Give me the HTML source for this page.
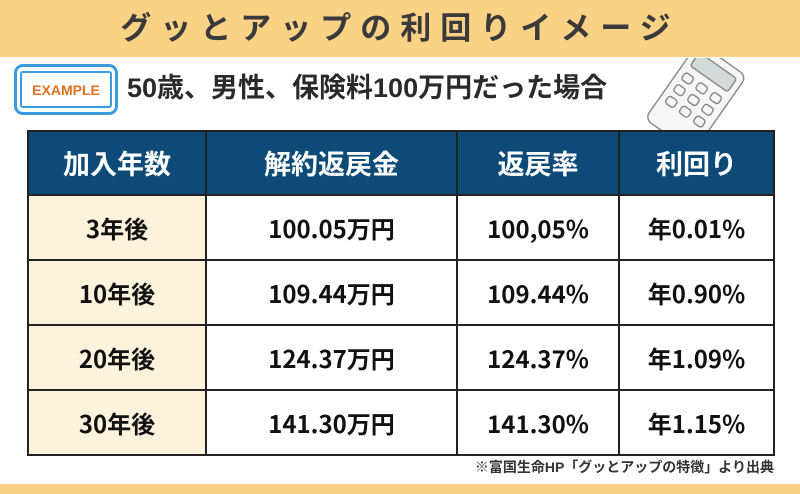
<!DOCTYPE html>
<html><head><meta charset="utf-8"><style>
*{margin:0;padding:0;box-sizing:border-box}
body{width:800px;height:494px;background:#fff;position:relative;overflow:hidden;font-family:"Liberation Sans","Noto Sans CJK JP",sans-serif;color:#222}
.top{position:absolute;left:0;top:0;width:800px;height:57px;background:#f9d285}
.top div{text-align:center;font-size:31px;font-weight:bold;line-height:57px;letter-spacing:9px;color:#3a3a3a}
.bot{position:absolute;left:0;top:484px;width:800px;height:10px;background:#f9d285}
.ex{position:absolute;left:14px;top:64px;width:104px;height:51px;border:3px solid #3a9be0;border-radius:9px}
.ex div{position:absolute;left:3px;top:4px;right:3px;bottom:4px;border:2px solid #3a9be0;border-radius:3px;color:#e07020;font-weight:bold;font-size:14px;text-align:center;line-height:34px}
.sub{position:absolute;left:127px;top:70px;font-size:27px;font-weight:bold;line-height:36px;color:#2a2a2a}
table{position:absolute;left:27px;top:130px;width:748px;border-collapse:collapse}
td,th{border:2px solid #222;text-align:center;font-weight:bold;font-size:24px;vertical-align:middle;line-height:30px;font-family:"Noto Sans CJK JP",sans-serif}
th{background:#0d4a78;color:#fff;height:64px;font-size:27px}
td{height:65px;background:#fff;color:#111}
td.f{background:#fdf3dd}
.note{position:absolute;right:26px;top:457px;font-size:14px;font-weight:bold;color:#333}
</style></head><body>
<div class="top"><div>グッとアップの利回りイメージ</div></div>
<div class="ex"><div>EXAMPLE</div></div>
<div class="sub">50歳、男性、保険料100万円だった場合</div>
<svg style="position:absolute;left:640px;top:58px" width="110" height="78" viewBox="0 0 110 82">
<g transform="rotate(35 55 41)" fill="none" stroke="#888" stroke-width="1.5">
<rect x="25" y="-8" width="62" height="98" rx="8" fill="#f6f6f6"/>
<rect x="32" y="0" width="48" height="17" rx="3" fill="#d3dada"/>
<rect x="32" y="25" width="11" height="9" rx="3"/><rect x="50" y="25" width="11" height="9" rx="3"/><rect x="68" y="25" width="11" height="9" rx="3"/>
<rect x="32" y="40" width="11" height="9" rx="3"/><rect x="50" y="40" width="11" height="9" rx="3"/><rect x="68" y="40" width="11" height="9" rx="3"/>
<rect x="32" y="55" width="11" height="9" rx="3"/><rect x="50" y="55" width="11" height="9" rx="3"/><rect x="68" y="55" width="11" height="9" rx="3"/>
</g></svg>
<table>
<tr><th style="width:178px">加入年数</th><th style="width:251px">解約返戻金</th><th style="width:162px">返戻率</th><th>利回り</th></tr>
<tr><td class="f">3年後</td><td>100.05万円</td><td>100,05%</td><td>年0.01%</td></tr>
<tr><td class="f" style="height:61px">10年後</td><td>109.44万円</td><td>109.44%</td><td>年0.90%</td></tr>
<tr><td class="f">20年後</td><td>124.37万円</td><td>124.37%</td><td>年1.09%</td></tr>
<tr><td class="f">30年後</td><td>141.30万円</td><td>141.30%</td><td>年1.15%</td></tr>
</table>
<div class="note">※富国生命HP「グッとアップの特徴」より出典</div>
<div class="bot"></div>
</body></html>
